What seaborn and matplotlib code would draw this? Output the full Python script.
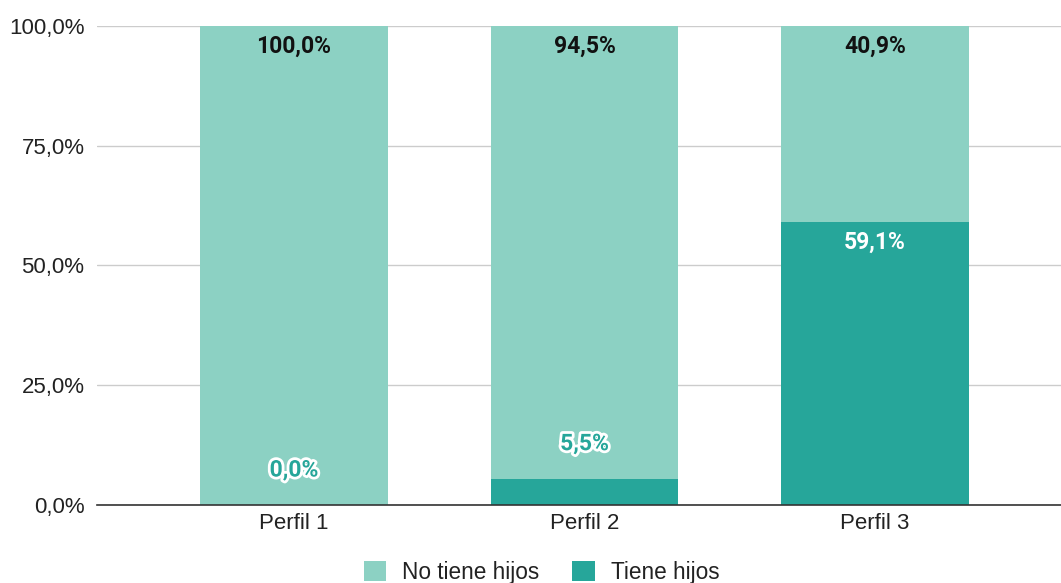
import matplotlib
matplotlib.use("Agg")
import matplotlib.pyplot as plt
import matplotlib.patheffects as pe
from matplotlib.patches import Patch
import seaborn as sns
import pandas as pd

categories = ["Perfil 1", "Perfil 2", "Perfil 3"]
tiene_hijos = [0.0, 5.5, 59.1]
no_tiene_hijos = [100.0, 94.5, 40.9]
y_ticks = [0, 25, 50, 75, 100]
y_tick_labels = ["0,0%", "25,0%", "50,0%", "75,0%", "100,0%"]
series_names = ["No tiene hijos", "Tiene hijos"]

LIGHT = "#8cd1c3"
DARK = "#26a69a"

sns.set_style("white")
plt.rcParams["font.family"] = ["Liberation Sans", "DejaVu Sans"]

df = pd.DataFrame({
    "perfil": categories,
    "tiene": tiene_hijos,
    "no_tiene": no_tiene_hijos,
})
df["total"] = df["tiene"] + df["no_tiene"]

fig = plt.figure(figsize=(10.61, 5.83), dpi=100)
ax = fig.add_axes([0.0914, 0.1338, 0.9086, 0.8216])

sns.barplot(data=df, x="perfil", y="total", color=LIGHT, width=0.647,
            saturation=1, ax=ax, zorder=2, linewidth=0, edgecolor="none")
sns.barplot(data=df, x="perfil", y="tiene", color=DARK, width=0.647,
            saturation=1, ax=ax, zorder=3, linewidth=0, edgecolor="none")

ax.set_xlim(-0.678, 2.64)
ax.set_ylim(0, 100)
ax.set_yticks(y_ticks)
ax.set_yticklabels(y_tick_labels)
ax.set_xlabel("")
ax.set_ylabel("")
ax.grid(axis="y", color="#cccccc", linewidth=1, zorder=0)
ax.set_axisbelow(True)
for s in ["left", "right", "top"]:
    ax.spines[s].set_visible(False)
ax.spines["bottom"].set_color("#333333")
ax.spines["bottom"].set_linewidth(1.2)
ax.spines["bottom"].set_zorder(5)
ax.tick_params(axis="both", length=0, labelsize=16, colors="#222222")
ax.tick_params(axis="y", pad=9)
ax.tick_params(axis="x", pad=6)

def fmt(v):
    return f"{v:.1f}%".replace(".", ",")

lab_font = dict(family=["Roboto", "DejaVu Sans"], fontsize=16.5, fontweight="bold")
for i, (t, n) in enumerate(zip(tiene_hijos, no_tiene_hijos)):
    total = t + n
    ax.text(i, total - 4.3, fmt(n), ha="center", va="center", color="#111111",
            zorder=6, **lab_font)
    if t > 15:
        ax.text(i, t - 4.3, fmt(t), ha="center", va="center", color="white",
                zorder=6, **lab_font)
    else:
        ax.text(i, t + 7.3, fmt(t), ha="center", va="center", color=DARK,
                zorder=6,
                path_effects=[pe.withStroke(linewidth=4, foreground="white")],
                **lab_font)

handles = [Patch(facecolor=LIGHT, edgecolor="none"),
           Patch(facecolor=DARK, edgecolor="none")]
fig.legend(handles, series_names, loc="center", bbox_to_anchor=(0.5104, 0.018),
           ncol=2, frameon=False, fontsize=16.3, handlelength=1.0,
           handleheight=1.0, handletextpad=0.7, columnspacing=1.45,
           labelcolor="#222222")

fig.savefig("out.png", dpi=100)
